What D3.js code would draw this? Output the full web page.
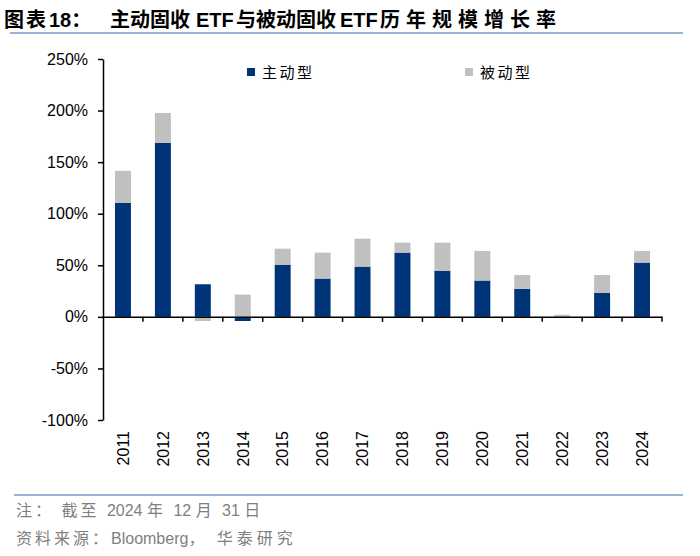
<!DOCTYPE html>
<html lang="zh">
<head>
<meta charset="utf-8">
<title>主动固收 ETF与被动固收 ETF历年规模增长率</title>
<script type="text/javascript" src="https://cdn.jsdelivr.net/npm/d3@7/dist/d3.min.js"></script>
<style type="text/css">
  body { margin: 0; background: #fff; }
  svg { font-family: "Liberation Sans", "Noto Sans CJK SC", sans-serif; }
  .axis text { font-size: 16px; fill: #000; }
  .axis path, .axis line { stroke: #000; stroke-width: 1.5; }
</style>
</head>
<body>
<script type="text/javascript">

  const years = ["2011","2012","2013","2014","2015","2016","2017","2018","2019","2020","2021","2022","2023","2024"];
  const active = [110.6, 168.7, 31.6, -4, 50.6, 37.1, 48.7, 62.3, 44.8, 35.2, 27.1, 0, 23.2, 52.6];
  const passive = [31, 29, -4, 21.6, 15.5, 25.2, 27.1, 9.7, 27.1, 28.7, 13.5, 2, 17.4, 11.3];
  const yTicks = [-100, -50, 0, 50, 100, 150, 200, 250];
  const seriesNames = ["主动型", "被动型"];

  const w = 700;
  const h = 556;
  const margin = {top: 59, right: 38, bottom: 136, left: 103};
  const colors = ["#003478", "#c0c0c0"];

  const svg = d3.select("body")
                .append("svg")
                .attr("width", w)
                .attr("height", h);

  const rows = years.map((y, i) => ({year: y, active: active[i], passive: passive[i]}));

  const stack = d3.stack()
                  .keys(["active", "passive"])
                  .offset(d3.stackOffsetDiverging);
  const stacked = stack(rows);

  const xScale = d3.scaleBand()
                   .domain(years)
                   .range([margin.left, w - margin.right])
                   .padding(0);

  const yScale = d3.scaleLinear()
                   .domain([-100, 250])
                   .range([h - margin.bottom, margin.top]);

  const bw = xScale.bandwidth() * 0.4;

  // mixed text: each part may get its own start x and letter spacing
  function spacedText(sel, parts) {
    parts.forEach(p => {
      const t = sel.append("tspan")
                   .style("letter-spacing", (p.ls || 0) + "px")
                   .text(p.t);
      if (p.x !== undefined) t.attr("x", p.x);
    });
  }

  // title
  const title = svg.append("text")
     .attr("y", 27)
     .style("font-size", "20px")
     .style("font-weight", "bold");
  spacedText(title, [
    {t: "图表", x: 4, ls: 2}, {t: "18：", x: 49},
    {t: "主动固收", x: 110}, {t: "ETF", x: 196},
    {t: "与被动固收", x: 236}, {t: "ETF", x: 340},
    {t: "历年规模增长率", x: 380, ls: 6}
  ]);

  svg.append("line")
     .attr("x1", 10).attr("x2", 683)
     .attr("y1", 33).attr("y2", 33)
     .attr("stroke", "#9bb3d3")
     .attr("stroke-width", 2);

  // bars
  svg.selectAll("g.series")
     .data(stacked)
     .enter()
     .append("g")
     .attr("class", "series")
     .attr("fill", (d, i) => colors[i])
     .selectAll("rect")
     .data(d => d)
     .enter()
     .append("rect")
     .attr("x", d => xScale(d.data.year) + (xScale.bandwidth() - bw) / 2)
     .attr("y", d => yScale(Math.max(d[0], d[1])))
     .attr("width", bw)
     .attr("height", d => Math.abs(yScale(d[0]) - yScale(d[1])));

  // y axis
  const yAxis = d3.axisLeft(yScale)
                  .tickValues(yTicks)
                  .tickSize(5)
                  .tickSizeOuter(0)
                  .tickPadding(10)
                  .tickFormat(d => d + "%");

  svg.append("g")
     .attr("class", "axis")
     .attr("transform", "translate(" + margin.left + ",0)")
     .call(yAxis);

  // zero line with ticks at band edges
  const zeroY = yScale(0);
  const xAxis = d3.axisBottom(xScale)
                  .tickSize(5)
                  .tickSizeOuter(0)
                  .tickFormat("");

  const gx = svg.append("g")
     .attr("class", "axis")
     .attr("transform", "translate(0," + zeroY + ")")
     .call(xAxis);
  gx.selectAll(".tick")
    .attr("transform", d => "translate(" + (xScale(d) + xScale.bandwidth()) + ",0)");

  // year labels
  svg.selectAll("text.year")
     .data(years)
     .enter()
     .append("text")
     .attr("class", "year")
     .attr("transform", d => "translate(" + (xScale(d) + xScale.bandwidth() / 2) + ",431) rotate(-90)")
     .attr("text-anchor", "end")
     .attr("dy", "0.36em")
     .style("font-size", "16px")
     .text(d => d);

  // legend
  const legendX = [247, 465];
  seriesNames.forEach((name, i) => {
    svg.append("rect")
       .attr("x", legendX[i])
       .attr("y", 68)
       .attr("width", 8)
       .attr("height", 8)
       .attr("fill", colors[i]);
    svg.append("text")
       .attr("x", legendX[i] + 15)
       .attr("y", 78)
       .style("font-size", "15px")
       .style("letter-spacing", "2.5px")
       .text(name);
  });

  // footer
  svg.append("line")
     .attr("x1", 14).attr("x2", 683)
     .attr("y1", 495).attr("y2", 495)
     .attr("stroke", "#9bb3d3")
     .attr("stroke-width", 2);

  const note = svg.append("text")
     .attr("x", 16)
     .attr("y", 516)
     .attr("fill", "#7f7f7f")
     .style("font-size", "16px");
  spacedText(note, [
    {t: "注： 截至 ", ls: 3}, {t: "2024 "}, {t: "年 ", ls: 3},
    {t: "12 "}, {t: "月 ", ls: 3}, {t: "31 "}, {t: "日", ls: 3}
  ]);

  const source = svg.append("text")
     .attr("x", 16)
     .attr("y", 544)
     .attr("fill", "#7f7f7f")
     .style("font-size", "16px");
  spacedText(source, [
    {t: "资料来源：", ls: 3}, {t: "Bloomberg"}, {t: "， 华泰研究", ls: 4}
  ]);

</script>
</body>
</html>
